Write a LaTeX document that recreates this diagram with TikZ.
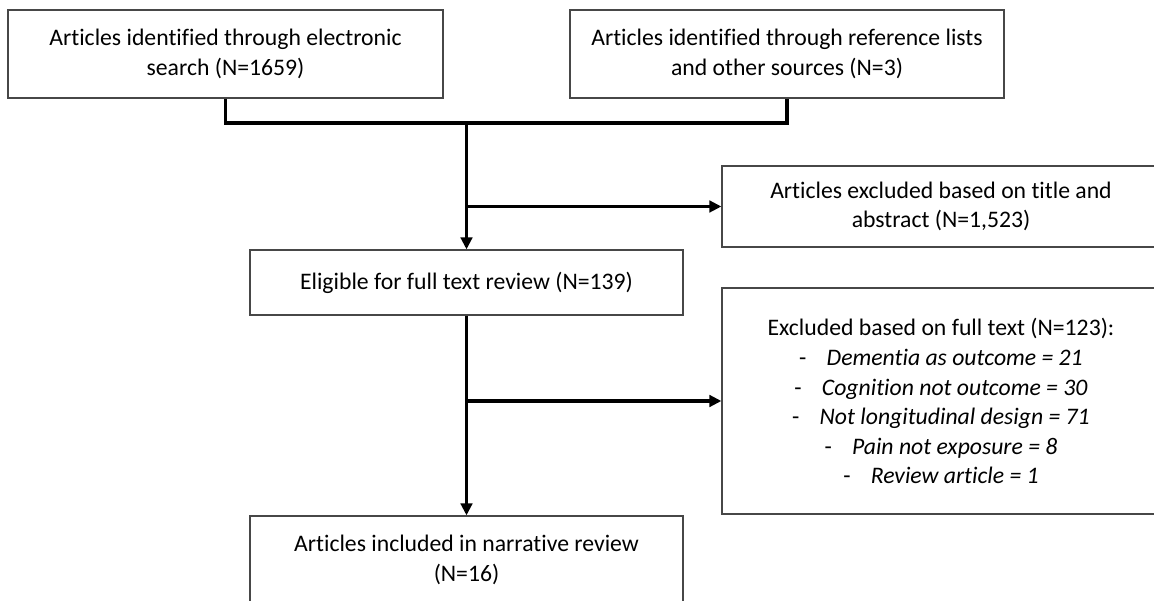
\documentclass[tikz,border=0pt]{standalone}
\usepackage{fontspec}
\setmainfont{Carlito}[Ligatures={NoCommon}]
\usetikzlibrary{arrows.meta}

\newcommand{\dashitem}[1]{\makebox[27.5pt][l]{-}\textit{#1}}

\tikzset{
  flowbox/.style={draw=black!72, line width=1.2pt, rectangle, align=center,
    inner sep=0pt, text=black,
    font=\fontsize{23.7pt}{29.5pt}\selectfont},
  link/.style={line width=3.3pt, black},
  linkarrow/.style={link, -{Triangle[length=12pt,width=11.5pt]}},
}

\begin{document}
\begin{tikzpicture}[x=1pt,y=-1pt]
  \useasboundingbox (0,0) rectangle (1154,601);
  \clip (0,0) rectangle (1154,601);
  \fill[white] (0,0) rectangle (1154,601);

  % sources
  \node[flowbox, minimum width=435pt, minimum height=88pt] (src1) at (225.5,54)
    {Articles identified through electronic\\search (N=1659)};
  \node[flowbox, minimum width=434pt, minimum height=88pt] (src2) at (787,54)
    {Articles identified through reference lists\\and other sources (N=3)};

  % screening
  \node[flowbox, minimum width=438pt, minimum height=81pt] (excl1) at (941,206.5)
    {Articles excluded based on title and\\abstract (N=1,523)};
  \node[flowbox, minimum width=433pt, minimum height=65pt] (elig) at (466.5,282.5)
    {Eligible for full text review (N=139)};
  \node[flowbox, minimum width=438pt, minimum height=226pt] (excl2) at (941,401)
    {Excluded based on full text (N=123):\\[1pt]
     \dashitem{Dementia as outcome = 21}\\
     \dashitem{Cognition not outcome = 30}\\
     \dashitem{Not longitudinal design = 71}\\
     \dashitem{Pain not exposure = 8}\\
     \dashitem{Review article = 1}};
  \node[flowbox, minimum width=433pt, minimum height=88pt] (final) at (466.5,560)
    {Articles included in narrative review\\(N=16)};

  % connectors
  \coordinate (join) at (466.5,123);
  \draw[link] (src1.south) |- (join) -| (src2.south);
  \draw[linkarrow] (join) -- (elig.north);
  \draw[linkarrow] (join |- excl1.west) -- (excl1.west);
  \draw[linkarrow] (elig.south) -- (final.north);
  \draw[linkarrow] (elig.south |- excl2.west) -- (excl2.west);
\end{tikzpicture}
\end{document}
